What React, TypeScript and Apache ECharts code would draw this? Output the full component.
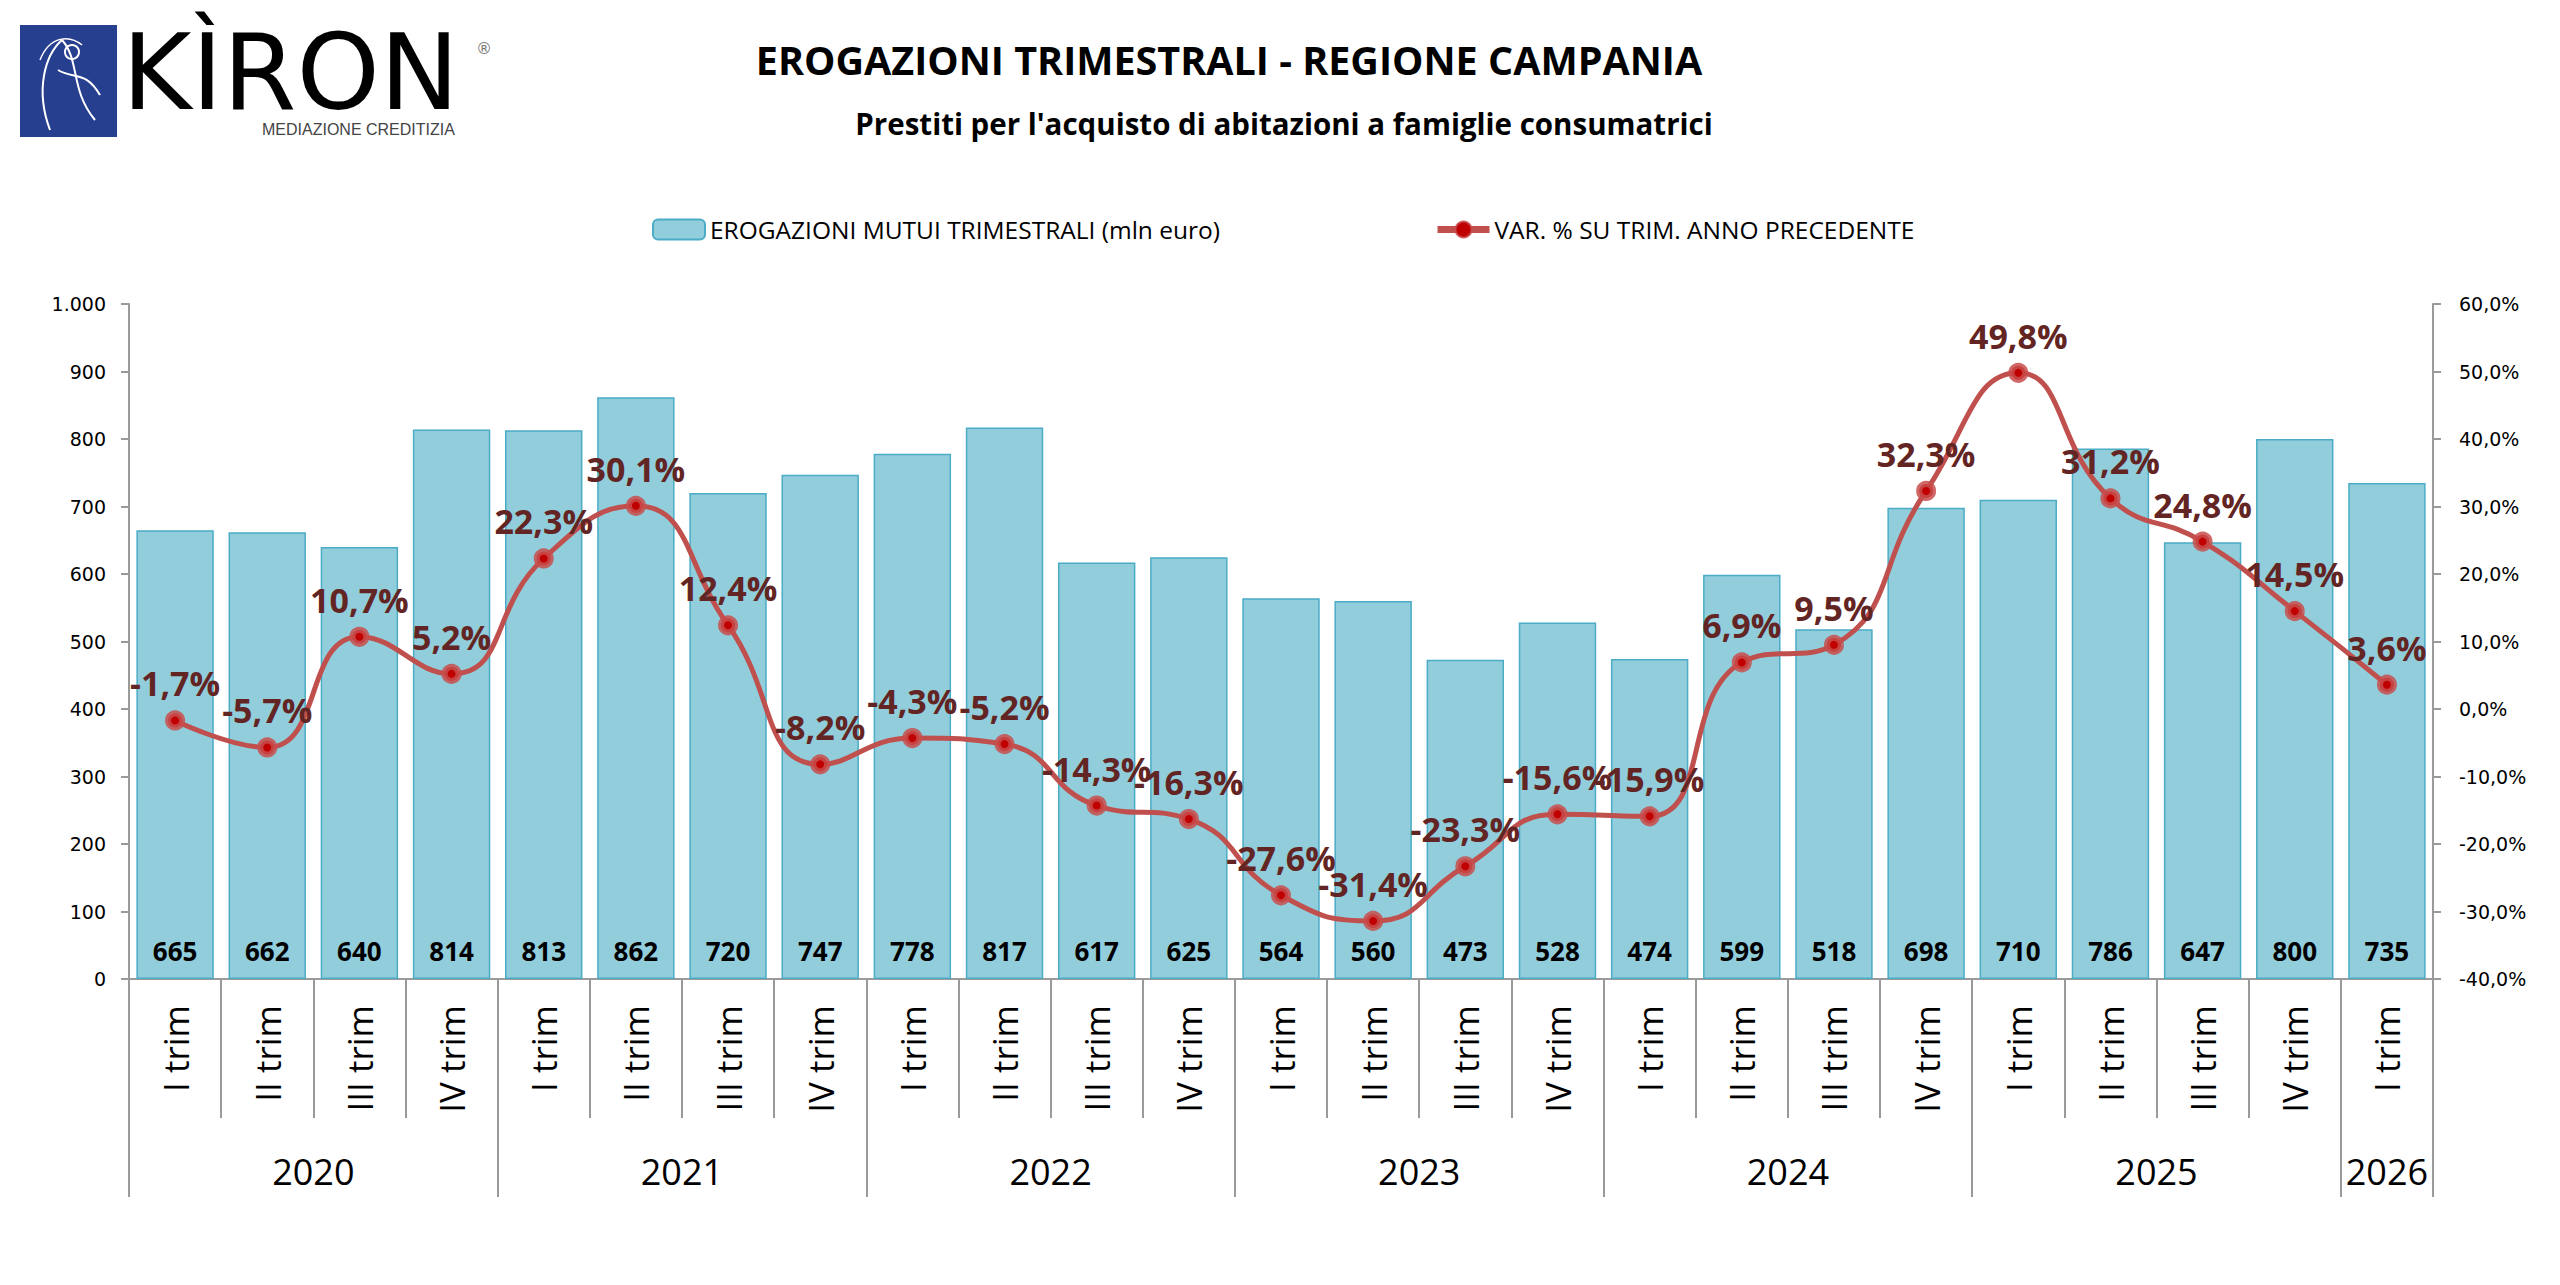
import { useEffect, useRef } from 'react';
import * as echarts from 'echarts';

// etichette dei trimestri (asse inferiore, primo livello)
const quarters = [
  'I trim', 'II trim', 'III trim', 'IV trim',
  'I trim', 'II trim', 'III trim', 'IV trim',
  'I trim', 'II trim', 'III trim', 'IV trim',
  'I trim', 'II trim', 'III trim', 'IV trim',
  'I trim', 'II trim', 'III trim', 'IV trim',
  'I trim', 'II trim', 'III trim', 'IV trim',
  'I trim',
];

// secondo livello: anni e numero di trimestri per anno
const years = ['2020', '2021', '2022', '2023', '2024', '2025', '2026'];
const quartersPerYear = [4, 4, 4, 4, 4, 4, 1];

// erogazioni trimestrali (mln euro)
const erogazioni = [
  665, 662, 640, 814, 813, 862, 720, 747, 778, 817, 617, 625, 564,
  560, 473, 528, 474, 599, 518, 698, 710, 786, 647, 800, 735,
];

// variazione % su trimestre anno precedente
const variazioni = [
  -1.7, -5.7, 10.7, 5.2, 22.3, 30.1, 12.4, -8.2, -4.3, -5.2, -14.3, -16.3, -27.6,
  -31.4, -23.3, -15.6, -15.9, 6.9, 9.5, 32.3, 49.8, 31.2, 24.8, 14.5, 3.6,
];

const barName = 'EROGAZIONI MUTUI TRIMESTRALI (mln euro)';
const lineName = 'VAR. % SU TRIM. ANNO PRECEDENTE';

const fmtPct = (v: number) => v.toFixed(1).replace('.', ',') + '%';
const fmtThousands = (v: number) => String(v).replace(/\B(?=(\d{3})+(?!\d))/g, '.');

// asse degli anni: mezzi trimestri, boundaryGap false -> 0..2*N
const buildYearAxis = () => {
  const total = quartersPerYear.reduce((a, b) => a + b, 0);
  const data: string[] = new Array(total * 2 + 1).fill('');
  const ticks: number[] = [0];
  const labels: number[] = [];
  let start = 0;
  years.forEach((y, i) => {
    const n = quartersPerYear[i];
    const mid = start * 2 + n;
    data[mid] = y;
    labels.push(mid);
    start += n;
    ticks.push(start * 2);
  });
  return { data, ticks, labels };
};

export default function App() {
  const chartRef = useRef<HTMLDivElement>(null);

  useEffect(() => {
    document.body.style.margin = '0';
    if (!chartRef.current) return;
    const chart = echarts.init(chartRef.current, undefined, { renderer: 'svg' });
    const yearAxis = buildYearAxis();
    const axisColor = '#9a9a9a';

    const option: echarts.EChartsOption = {
      animation: false,
      backgroundColor: '#ffffff',
      textStyle: { fontFamily: 'Open Sans' },
      legend: {
        left: 647,
        top: 212,
        itemWidth: 52,
        itemHeight: 20,
        itemGap: 214,
        textStyle: { fontFamily: 'Open Sans', fontSize: 24.5, color: '#000' },
        data: [
          { name: barName },
          { name: lineName, lineStyle: { width: 7, color: '#c0504d' } },
        ],
      },
      grid: { left: 129, right: 127, top: 304, bottom: 306, containLabel: false },
      xAxis: [
        {
          type: 'category',
          position: 'bottom',
          data: quarters,
          axisLine: { onZero: false, lineStyle: { color: axisColor, width: 2 } },
          axisTick: { show: true, interval: 0, length: 139, lineStyle: { color: axisColor, width: 2 } },
          axisLabel: {
            interval: 0,
            rotate: 90,
            margin: 26,
            fontFamily: 'Open Sans',
            fontSize: 35,
            color: '#000',
          },
        },
        {
          type: 'category',
          position: 'bottom',
          offset: 139,
          boundaryGap: false,
          data: yearAxis.data,
          axisLine: { show: false, onZero: false },
          axisTick: {
            show: true,
            length: 79,
            interval: (i: number) => yearAxis.ticks.includes(i),
            lineStyle: { color: axisColor, width: 2 },
          },
          axisLabel: {
            interval: (i: number) => yearAxis.labels.includes(i),
            margin: 35,
            fontFamily: 'Open Sans',
            fontSize: 36,
            color: '#000',
          },
        },
      ],
      yAxis: [
        {
          type: 'value',
          min: 0,
          max: 1000,
          interval: 100,
          splitLine: { show: false },
          axisLine: { show: true, lineStyle: { color: axisColor, width: 2 } },
          axisTick: { show: true, length: 8, lineStyle: { color: axisColor, width: 2 } },
          axisLabel: {
            margin: 23,
            fontFamily: 'DejaVu Sans',
            fontSize: 19,
            color: '#000',
            formatter: (v: number) => fmtThousands(v),
          },
        },
        {
          type: 'value',
          min: -40,
          max: 60,
          interval: 10,
          position: 'right',
          splitLine: { show: false },
          axisLine: { show: true, lineStyle: { color: axisColor, width: 2 } },
          axisTick: { show: true, length: 8, lineStyle: { color: axisColor, width: 2 } },
          axisLabel: {
            margin: 26,
            fontFamily: 'DejaVu Sans',
            fontSize: 19,
            color: '#000',
            formatter: (v: number) => fmtPct(v),
          },
        },
      ],
      series: [
        {
          name: barName,
          type: 'bar',
          xAxisIndex: 0,
          yAxisIndex: 0,
          data: erogazioni,
          barCategoryGap: '16%',
          itemStyle: { color: '#92cddc', borderColor: '#4bacc6', borderWidth: 1.5 },
          label: {
            show: true,
            position: 'insideBottom',
            distance: 15,
            fontFamily: 'Open Sans',
            fontWeight: 'bold',
            fontSize: 26,
            color: '#000',
          },
        },
        {
          name: lineName,
          type: 'line',
          xAxisIndex: 0,
          yAxisIndex: 1,
          data: variazioni,
          smooth: 0.5,
          symbol: 'circle',
          symbolSize: 14,
          lineStyle: { color: '#c0504d', width: 5 },
          itemStyle: { color: '#c00000', borderColor: 'rgba(200,78,76,0.85)', borderWidth: 6 },
          label: {
            show: true,
            position: 'top',
            distance: 10,
            fontFamily: 'Open Sans',
            fontWeight: 'bold',
            fontSize: 34,
            color: '#632523',
            formatter: (p: any) => fmtPct(p.value),
          },
          z: 5,
        },
      ],
      graphic: [
        // logo
        { type: 'rect', shape: { x: 20, y: 25, width: 97, height: 112 }, style: { fill: '#263f8f' } },
        {
          type: 'bezierCurve',
          shape: { x1: 50, y1: 130, x2: 62, y2: 40, cpx1: 35, cpy1: 90, cpx2: 45, cpy2: 55 },
          style: { stroke: '#ffffff', lineWidth: 2, fill: 'none' },
        },
        {
          type: 'bezierCurve',
          shape: { x1: 62, y1: 40, x2: 95, y2: 120, cpx1: 80, cpy1: 60, cpx2: 70, cpy2: 90 },
          style: { stroke: '#ffffff', lineWidth: 2, fill: 'none' },
        },
        {
          type: 'bezierCurve',
          shape: { x1: 58, y1: 70, x2: 100, y2: 95, cpx1: 75, cpy1: 80, cpx2: 85, cpy2: 70 },
          style: { stroke: '#ffffff', lineWidth: 2, fill: 'none' },
        },
        {
          type: 'bezierCurve',
          shape: { x1: 40, y1: 60, x2: 82, y2: 45, cpx1: 50, cpy1: 35, cpx2: 70, cpy2: 35 },
          style: { stroke: '#ffffff', lineWidth: 1.5, fill: 'none' },
        },
        { type: 'circle', shape: { cx: 72, cy: 52, r: 7 }, style: { stroke: '#ffffff', lineWidth: 2, fill: 'none' } },
        {
          type: 'text',
          x: 122,
          y: 72,
          style: {
            text: 'KÌRON',
            font: '106px "DejaVu Sans"',
            lineHeight: 84,
            fill: '#000',
            align: 'left',
            verticalAlign: 'middle',
          },
        },
        {
          type: 'text',
          x: 262,
          y: 129,
          style: {
            text: 'MEDIAZIONE CREDITIZIA',
            font: '16px "Liberation Sans"',
            fill: '#444',
            align: 'left',
            verticalAlign: 'middle',
          },
        },
        {
          type: 'text',
          x: 484,
          y: 48,
          style: { text: '®', font: '16px "DejaVu Sans"', fill: '#777', align: 'center', verticalAlign: 'middle' },
        },
        // titoli
        {
          type: 'text',
          x: 1229,
          y: 60,
          style: {
            text: 'EROGAZIONI TRIMESTRALI - REGIONE CAMPANIA',
            font: 'bold 39.5px "Open Sans"',
            fill: '#000',
            align: 'center',
            verticalAlign: 'middle',
          },
        },
        {
          type: 'text',
          x: 1284,
          y: 123,
          style: {
            text: "Prestiti per l'acquisto di abitazioni a famiglie consumatrici",
            font: 'bold 29.5px "Open Sans"',
            fill: '#000',
            align: 'center',
            verticalAlign: 'middle',
          },
        },
      ],
    };

    chart.setOption(option);
    return () => {
      chart.dispose();
    };
  }, []);

  return <div ref={chartRef} style={{ width: 2560, height: 1285 }} />;
}
